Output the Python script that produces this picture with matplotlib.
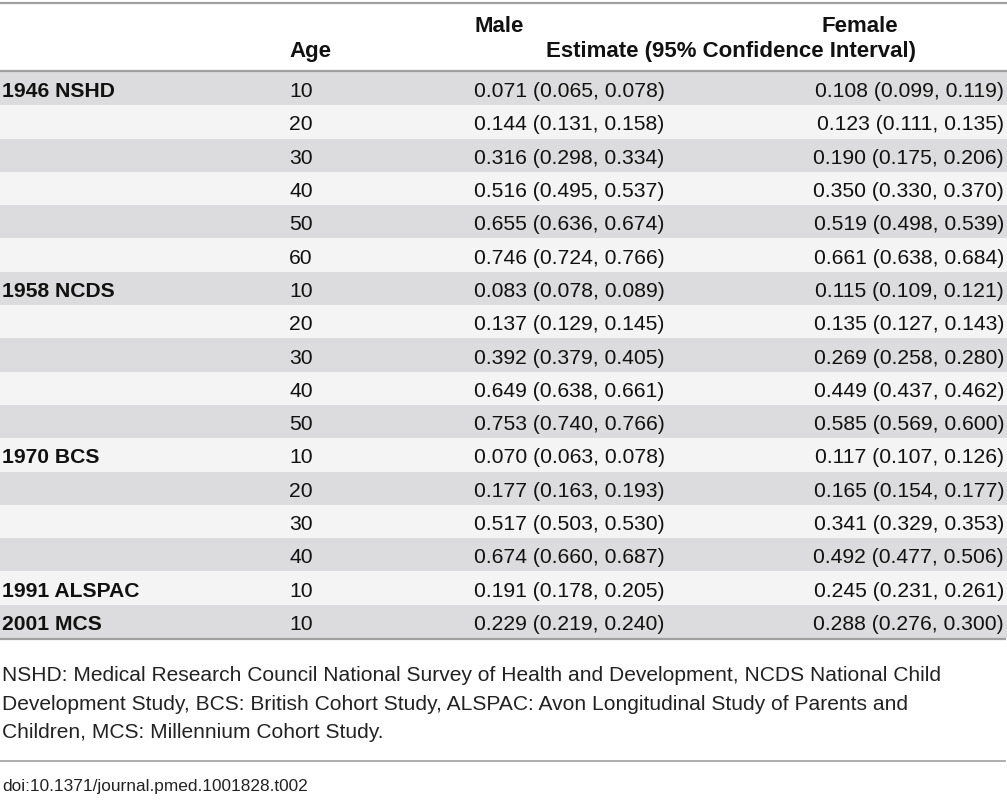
import matplotlib
matplotlib.use("Agg")
import matplotlib.pyplot as plt
from matplotlib.patches import Rectangle

plt.rcParams['font.family'] = ['Liberation Sans', 'DejaVu Sans']

cohorts = ["1946 NSHD", "", "", "", "", "", "1958 NCDS", "", "", "", "", "1970 BCS", "", "", "",
           "1991 ALSPAC", "2001 MCS"]
ages = [10, 20, 30, 40, 50, 60, 10, 20, 30, 40, 50, 10, 20, 30, 40, 10, 10]
male_est = [0.071, 0.144, 0.316, 0.516, 0.655, 0.746, 0.083, 0.137, 0.392, 0.649, 0.753,
            0.070, 0.177, 0.517, 0.674, 0.191, 0.229]
male_lo = [0.065, 0.131, 0.298, 0.495, 0.636, 0.724, 0.078, 0.129, 0.379, 0.638, 0.740,
           0.063, 0.163, 0.503, 0.660, 0.178, 0.219]
male_hi = [0.078, 0.158, 0.334, 0.537, 0.674, 0.766, 0.089, 0.145, 0.405, 0.661, 0.766,
           0.078, 0.193, 0.530, 0.687, 0.205, 0.240]
female_est = [0.108, 0.123, 0.190, 0.350, 0.519, 0.661, 0.115, 0.135, 0.269, 0.449, 0.585,
              0.117, 0.165, 0.341, 0.492, 0.245, 0.288]
female_lo = [0.099, 0.111, 0.175, 0.330, 0.498, 0.638, 0.109, 0.127, 0.258, 0.437, 0.569,
             0.107, 0.154, 0.329, 0.477, 0.231, 0.276]
female_hi = [0.119, 0.135, 0.206, 0.370, 0.539, 0.684, 0.121, 0.143, 0.280, 0.462, 0.600,
             0.126, 0.177, 0.353, 0.506, 0.261, 0.300]

header_age = "Age"
header_male = "Male"
header_female = "Female"
header_est = "Estimate (95% Confidence Interval)"
footnote = ("NSHD: Medical Research Council National Survey of Health and Development, NCDS National Child\n"
            "Development Study, BCS: British Cohort Study, ALSPAC: Avon Longitudinal Study of Parents and\n"
            "Children, MCS: Millennium Cohort Study.")
doi = "doi:10.1371/journal.pmed.1001828.t002"

W, H = 1007, 800
fig = plt.figure(figsize=(W / 100, H / 100), dpi=100)
ax = fig.add_axes([0, 0, 1, 1])
ax.set_xlim(0, W)
ax.set_ylim(H, 0)
ax.axis("off")

fs = 15.2
hfs = 16.0
row_top = 72.0
n = len(ages)
row_h = (638.0 - row_top) / n
gray = "#dcdcde"
light = "#f4f4f4"
line_c = "#a0a0a0"
tc = "#111111"

for i in range(n):
    y0 = row_top + i * row_h
    ax.add_patch(Rectangle((0, y0), W, row_h, facecolor=gray if i % 2 == 0 else light,
                           edgecolor="none", zorder=0))
    yc = y0 + row_h / 2 + 3
    if cohorts[i]:
        ax.text(2, yc, cohorts[i], fontsize=fs, fontweight="bold", va="center", ha="left", color=tc)
    ax.text(289, yc, str(ages[i]), fontsize=fs, va="center", ha="left", color=tc)
    ax.text(474, yc, f"{male_est[i]:.3f} ({male_lo[i]:.3f}, {male_hi[i]:.3f})",
            fontsize=fs, va="center", ha="left", color=tc)
    ax.text(1004, yc, f"{female_est[i]:.3f} ({female_lo[i]:.3f}, {female_hi[i]:.3f})",
            fontsize=fs, va="center", ha="right", color=tc)

# header
ax.text(289, 51, header_age, fontsize=hfs, fontweight="bold", va="center", ha="left", color=tc)
ax.text(475, 26, header_male, fontsize=hfs, fontweight="bold", va="center", ha="left", color=tc)
ax.text(860, 26, header_female, fontsize=hfs, fontweight="bold", va="center", ha="center", color=tc)
ax.text(731, 51, header_est, fontsize=hfs, fontweight="bold", va="center", ha="center", color=tc)

# rules
bottom = row_top + n * row_h
ax.plot([0, W], [2.5, 2.5], color=line_c, lw=1.6)
ax.plot([0, W], [row_top - 1, row_top - 1], color=line_c, lw=1.6)
ax.plot([0, 1005], [bottom + 1, bottom + 1], color=line_c, lw=1.6)
ax.plot([0, 1005], [761, 761], color=line_c, lw=1.2)

ax.text(2, 704, footnote, fontsize=15.1, va="center", ha="left", color="#222222", linespacing=1.62)
ax.text(2, 787, doi, fontsize=12.4, va="center", ha="left", color="#222222")

fig.savefig("out.png", dpi=100)
